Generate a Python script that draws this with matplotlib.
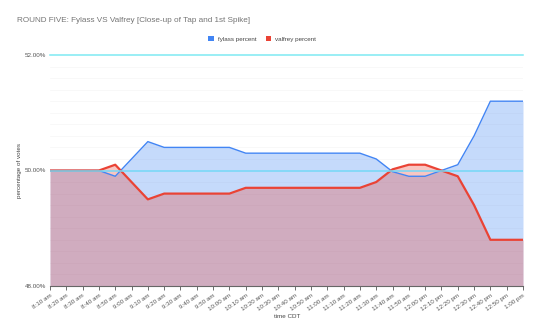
import matplotlib
matplotlib.use("Agg")
import matplotlib.pyplot as plt
import numpy as np

plt.rcParams['font.family'] = ['Liberation Sans', 'DejaVu Sans']

times = ["8:10 am", "8:20 am", "8:30 am", "8:40 am", "8:50 am", "9:00 am", "9:10 am",
         "9:20 am", "9:30 am", "9:40 am", "9:50 am", "10:00 am", "10:10 am", "10:20 am",
         "10:30 am", "10:40 am", "10:50 am", "11:00 am", "11:10 am", "11:20 am", "11:30 am",
         "11:40 am", "11:50 am", "12:00 pm", "12:10 pm", "12:20 pm", "12:30 pm", "12:40 pm",
         "12:50 pm", "1:00 pm"]
fylass = [50.0, 50.0, 50.0, 50.0, 49.9, 50.2, 50.5, 50.4, 50.4, 50.4, 50.4, 50.4,
          50.3, 50.3, 50.3, 50.3, 50.3, 50.3, 50.3, 50.3, 50.2, 49.98, 49.9, 49.9,
          50.0, 50.1, 50.6, 51.2, 51.2, 51.2]
valfrey = [50.0, 50.0, 50.0, 50.0, 50.1, 49.8, 49.5, 49.6, 49.6, 49.6, 49.6, 49.6,
           49.7, 49.7, 49.7, 49.7, 49.7, 49.7, 49.7, 49.7, 49.8, 50.02, 50.1, 50.1,
           50.0, 49.9, 49.4, 48.8, 48.8, 48.8]
y_ticks = [48.0, 50.0, 52.0]

BLUE = "#4285F4"
RED = "#EA4335"

fig = plt.figure(figsize=(5.4, 3.34), dpi=100)
ax = fig.add_axes([50/540, 1-286/334, (523-50)/540, (286-55)/334])

x = np.arange(len(times))
ymin = 48.0
ax.fill_between(x, ymin, fylass, color=BLUE, alpha=0.3, linewidth=0, zorder=2)
ax.fill_between(x, ymin, valfrey, color=RED, alpha=0.3, linewidth=0, zorder=3)
ax.plot(x, fylass, color=BLUE, linewidth=1.0, zorder=5)
ax.plot(x, valfrey, color=RED, linewidth=1.6, zorder=6)

ax.set_xlim(0, len(times) - 1)
ax.set_ylim(48.0, 52.0)

# minor gridlines
for v in np.arange(48.2, 52.0, 0.2):
    if abs(v - 50.0) > 1e-6:
        ax.axhline(v, color="#f5f5f5", linewidth=0.5, zorder=1)
ax.axhline(50.0, color="#74D8F6", linewidth=1.1, zorder=7)
ax.axhline(52.0, color="#7EEAF2", linewidth=1.1, zorder=7, clip_on=False)

ax.set_yticks(y_ticks)
ax.set_yticklabels([f"{v:.2f}%" for v in y_ticks], fontsize=4.5, color="#555555")
ax.set_xticks(x)
ax.set_xticklabels(times, fontsize=4.5, color="#555555", rotation=35, ha="right",
                   rotation_mode="anchor")
ax.tick_params(axis="y", length=0, pad=3)
ax.tick_params(axis="x", length=3, width=0.6, color="#555555", pad=2)

for s in ["top", "right", "left"]:
    ax.spines[s].set_visible(False)
ax.spines["bottom"].set_color("#666666")
ax.spines["bottom"].set_linewidth(0.8)
ax.spines["bottom"].set_zorder(8)

fig.text(17/540, 1-20/334, "ROUND FIVE: Fylass VS Valfrey [Close-up of Tap and 1st Spike]",
         fontsize=5.9, color="#757575", va="center", ha="left")
fig.text(20/540, 1-170/334, "percentage of votes", rotation=90, fontsize=4.5,
         color="#444444", va="center", ha="center")
fig.text(287/540, 1-317/334, "time CDT", fontsize=4.5, color="#444444",
         va="center", ha="center")

from matplotlib.patches import Patch
handles = [Patch(facecolor=BLUE, edgecolor="none"), Patch(facecolor=RED, edgecolor="none")]
fig.legend(handles, ["fylass percent", "valfrey percent"], loc="center",
           bbox_to_anchor=(262/540, 1-39/334), ncol=2, frameon=False, fontsize=4.5,
           handlelength=0.9, handleheight=0.9, handletextpad=0.6, columnspacing=1.5,
           labelcolor="#444444")

fig.savefig("out.png", dpi=100)
